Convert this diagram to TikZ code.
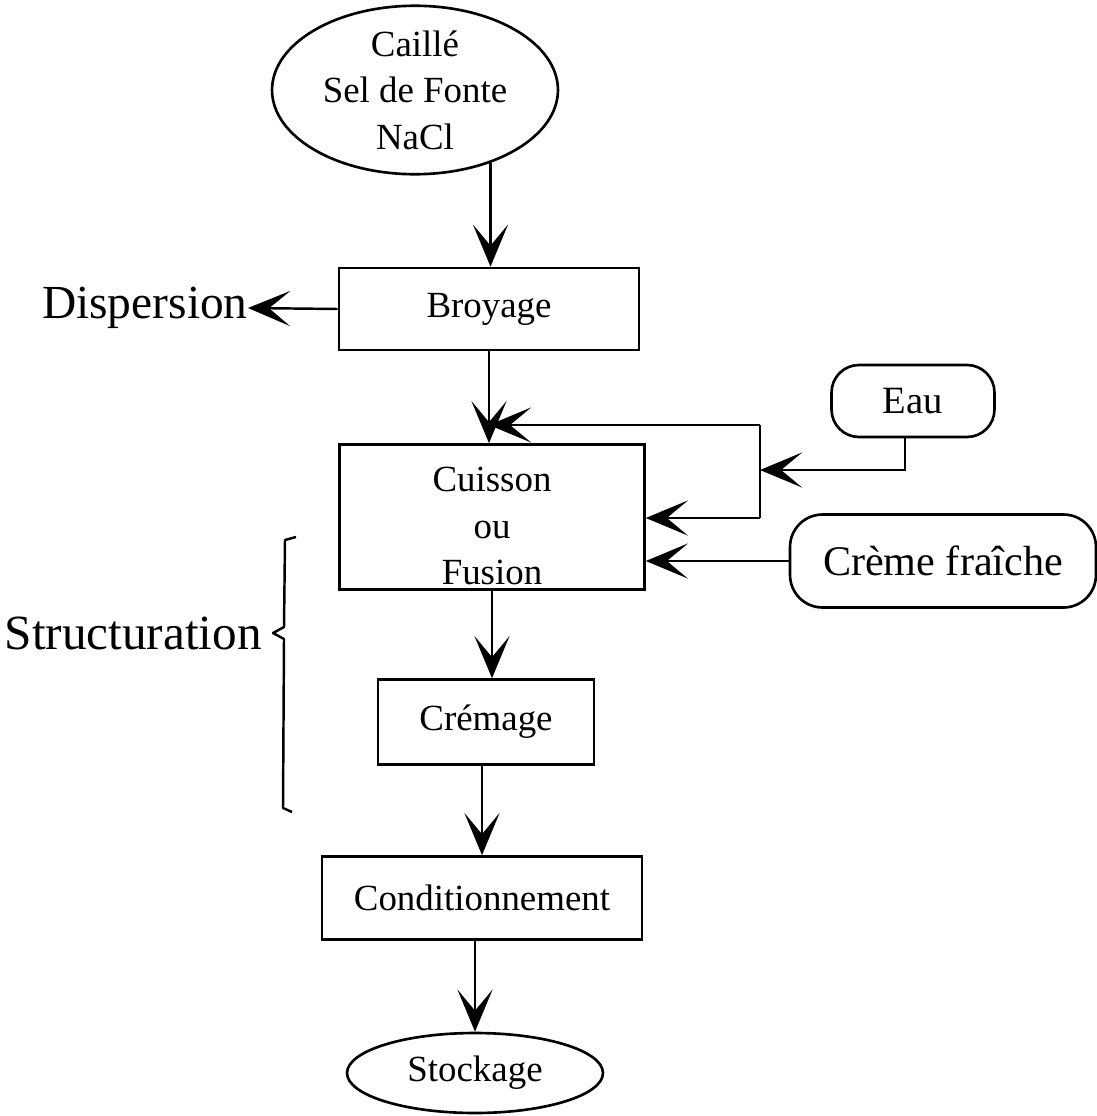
\documentclass[tikz,border=0pt]{standalone}
\usepackage{fontspec}
\setmainfont{Liberation Serif}
\usetikzlibrary{shapes.geometric,arrows.meta}
\begin{document}
\begin{tikzpicture}[x=0.02cm,y=-0.02cm,
  txt/.style={font=\fontsize{21}{26.5}\selectfont, align=center, inner sep=0pt},
  boxn/.style={txt, draw, line width=1.5pt},
  ell/.style={boxn, ellipse},
  rbox/.style={boxn, rounded corners=0.55cm},
  big/.style={inner sep=0pt, anchor=east},
  arr/.style={line width=1.4pt, -{Stealth[length=24pt, width=20pt, inset=12pt]}},
  ln/.style={line width=1.4pt}]
\useasboundingbox (0,0) rectangle (1096,1116);

\node[ell, minimum width=5.72cm, minimum height=3.24cm] (top) at (415,90) {Caillé\\Sel de Fonte\\NaCl};
\node[boxn, minimum width=6cm, minimum height=1.64cm] (broy) at (489,309) {Broyage};
\node[big, font=\fontsize{27}{32}\selectfont] (disp) at (248,308) {Dispersion};
\node[boxn, minimum width=6.1cm, minimum height=2.9cm] (cuis) at (492,517) {};
\node[txt] (cuistext) at (492,526) {Cuisson\\ou\\Fusion};
\node[rbox, minimum width=3.26cm, minimum height=1.44cm, font=\fontsize{22}{26}\selectfont] (eau) at (913,401) {Eau};
\node[rbox, rounded corners=0.65cm, minimum width=6.12cm, minimum height=1.86cm, font=\fontsize{24}{29}\selectfont] (creme) at (943,561) {Crème fraîche};
\node[boxn, minimum width=4.32cm, minimum height=1.7cm] (crem) at (486,722) {Crémage};
\node[boxn, minimum width=6.4cm, minimum height=1.66cm] (cond) at (482,898) {Conditionnement};
\node[ell, minimum width=5.12cm, minimum height=1.6cm] (stock) at (475,1073) {Stockage};
\node[big, font=\fontsize{28}{33}\selectfont] (struct) at (262,633) {Structuration};

% main flow
\draw[arr] (top.-44) -- (top.-44 |- broy.north);
\draw[arr] (broy.west) -- (disp.east);
\draw[arr] (broy.south) -- (broy.south |- cuis.north);
\draw[arr] (cuis.south) -- (cuis.south |- crem.north);
\draw[arr] (crem.south -| cond.north) -- (cond.north);
\draw[arr] (cond.south -| stock.north) -- (stock.north);

% feeds
\coordinate (jt) at (760,425);
\coordinate (je) at (760,470);
\coordinate (jb) at (760,518);
\draw[ln] (jt) -- (jb);
\draw[arr] (jt) -- (jt -| broy.south);
\draw[arr] (jb) -- (jb -| cuis.east);
\draw[arr] ([xshift=-0.16cm]eau.south) |- (je);
\draw[arr] (creme.west) -- (creme.west -| cuis.east);

% brace
\draw[line width=1.4pt, line join=round] (296,537) -- (285,540) -- (284,627) -- (273,633) -- (284,639) -- (283,808) -- (292,812);
\end{tikzpicture}
\end{document}
